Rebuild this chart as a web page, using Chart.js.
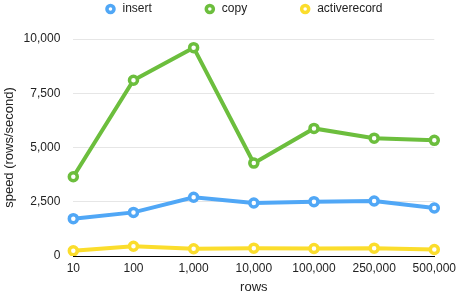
<!DOCTYPE html>
<html>
<head>
<meta charset="utf-8">
<script src="https://cdn.jsdelivr.net/npm/chart.js@4/dist/chart.umd.min.js"></script>
<style>
html,body{margin:0;padding:0;background:#fff;}
#wrap{width:457px;height:297px;position:relative;}
</style>
</head>
<body>
<div id="wrap"><canvas id="c"></canvas></div>
<script>
const categories = ['10', '100', '1,000', '10,000', '100,000', '250,000', '500,000'];
const insertValues = [1720, 2010, 2710, 2445, 2505, 2535, 2210];
const copyValues = [3650, 8100, 9600, 4280, 5880, 5430, 5330];
const activerecordValues = [240, 450, 335, 360, 345, 360, 300];
const seriesNames = ['insert', 'copy', 'activerecord'];
const yTickMax = 10000;
const yTickStep = 2500;

const colors = ['#50a7f6', '#6cbe3d', '#fbdd2c'];
const FONT = "'Liberation Sans', Arial, Helvetica, sans-serif";
const LEG_PAD = 52;
const LEG_H = 39;

function ds(label, data, color) {
  return {
    label, data,
    borderColor: color,
    backgroundColor: '#ffffff',
    borderWidth: 4,
    pointRadius: 4,
    pointHoverRadius: 4,
    pointBorderWidth: 3.5,
    pointBackgroundColor: '#ffffff',
    pointBorderColor: color,
    tension: 0
  };
}

const legendTweak = {
  id: 'legendTweak',
  beforeLayout(chart) {
    const lg = chart.legend;
    if (lg && !lg._wrappedFit) {
      const f = lg.fit.bind(lg);
      lg.fit = function () { f(); this.height = LEG_H; };
      lg._wrappedFit = true;
    }
  },
  afterLayout(chart) {
    const lg = chart.legend;
    if (lg) {
      lg.top -= (LEG_PAD - 3);
      lg.left += 15;
      lg.right += 15;
    }
  }
};

new Chart(document.getElementById('c'), {
  type: 'line',
  data: {
    labels: categories,
    datasets: [
      ds(seriesNames[0], insertValues, colors[0]),
      ds(seriesNames[1], copyValues, colors[1]),
      ds(seriesNames[2], activerecordValues, colors[2])
    ]
  },
  plugins: [legendTweak],
  options: {
    responsive: true,
    maintainAspectRatio: false,
    animation: false,
    layout: { padding: { left: 0, right: 0, top: 0, bottom: 2 } },
    plugins: {
      tooltip: { enabled: false },
      legend: {
        position: 'top',
        labels: {
          usePointStyle: true,
          pointStyle: 'circle',
          boxWidth: 12,
          boxHeight: 5,
          padding: LEG_PAD,
          color: '#222',
          font: { family: FONT, size: 12 }
        }
      }
    },
    scales: {
      x: {
        offset: false,
        grid: { display: true, drawOnChartArea: false, drawTicks: true, tickLength: 4, tickColor: 'rgba(0,0,0,0)' },
        border: { display: true, color: '#000', width: 1 },
        ticks: { color: '#222', font: { family: FONT, size: 12 }, padding: 1, maxRotation: 0, autoSkip: false },
        title: { display: true, text: 'rows', color: '#222', font: { family: FONT, size: 13 }, padding: { top: 3, bottom: 0 } }
      },
      y: {
        min: 0,
        max: yTickMax,
        grid: { color: '#e6e6e6', drawTicks: true, tickLength: 12, tickColor: 'rgba(0,0,0,0)', lineWidth: 1 },
        border: { display: false },
        ticks: { stepSize: yTickStep, color: '#222', font: { family: FONT, size: 12 }, padding: 1 },
        title: { display: true, text: 'speed (rows/second)', color: '#222', font: { family: FONT, size: 13 }, padding: { top: 2, bottom: 5 } }
      }
    }
  }
});
</script>
</body>
</html>
